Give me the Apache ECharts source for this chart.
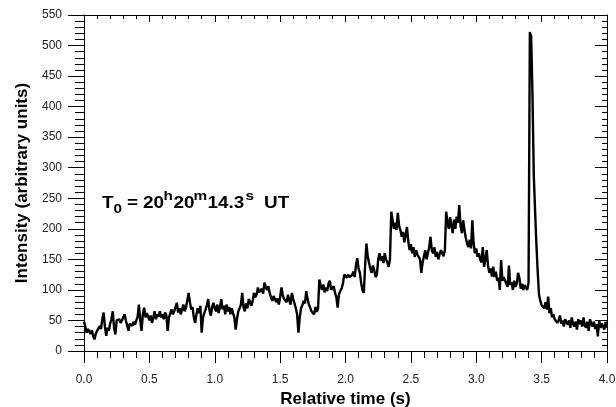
<!DOCTYPE html>
<html>
<head>
<meta charset="utf-8">
<script src="https://cdn.jsdelivr.net/npm/echarts@6/dist/echarts.min.js"></script>
<style>
  html, body { margin: 0; padding: 0; background: #fff; }
  #chart { width: 616px; height: 407px; }
</style>
</head>
<body>
<div id="chart"></div>
<script>
// sampling step of the record (s)
const step = 0.01

// intensity, one array per second, 100 samples each (last one has the 4.00 s point)
const sec0 = [
  48, 40, 30, 36, 33, 28, 34, 25, 19, 28,
  33, 30, 41, 36, 52, 63, 40, 25, 38, 33,
  45, 52, 65, 38, 27, 50, 48, 52, 46, 50,
  47, 60, 50, 42, 33, 45, 46, 41, 48, 43,
  50, 56, 76, 50, 33, 60, 71, 55, 62, 57,
  50, 58, 46, 55, 65, 52, 60, 56, 65, 55,
  60, 52, 63, 58, 33, 55, 62, 68, 60, 65,
  72, 79, 63, 70, 60, 68, 76, 65, 71, 73,
  95, 80, 68, 72, 55, 46, 60, 70, 62, 74,
  30, 55, 62, 68, 75, 85, 66, 58, 72, 79
]
const sec1 = [
  70, 65, 76, 62, 72, 85, 68, 74, 60, 76,
  65, 72, 60, 70, 62, 55, 35, 52, 65, 70,
  76, 95, 72, 65, 78, 70, 85, 80, 74, 82,
  95, 88, 92, 104, 96, 98, 102, 94, 112, 105,
  100, 106, 95, 88, 82, 90, 93, 80, 86, 76,
  88, 104, 92, 85, 87, 80, 92, 83, 76, 95,
  85, 78, 70, 60, 30, 55, 70, 75, 82, 78,
  98, 85, 76, 71, 65, 68, 60, 72, 64, 70,
  117, 108, 100, 109, 96, 104, 98, 110, 115, 100,
  98, 106, 95, 88, 71, 93, 98, 102, 110, 125
]
const sec2 = [
  124, 120, 125, 121, 118, 124, 130, 121, 140, 152,
  135, 128, 111, 100, 95, 140, 176, 155, 144, 135,
  128, 140, 132, 121, 125, 150, 160, 148, 155, 144,
  160, 150, 145, 138, 150, 228, 214, 200, 210, 198,
  226, 205, 198, 187, 195, 178, 190, 203, 180, 165,
  175, 160, 170, 154, 165, 158, 160, 150, 128, 145,
  155, 165, 150, 160, 170, 187, 165, 160, 170, 154,
  162, 150, 158, 165, 160, 155, 165, 228, 210, 200,
  219, 205, 193, 215, 200, 220, 210, 239, 205, 193,
  214, 198, 185, 176, 170, 182, 168, 214, 176, 160
]
const sec3 = [
  168, 154, 160, 150, 145, 170, 138, 150, 165, 140,
  128, 135, 122, 138, 121, 130, 115, 120, 100, 149,
  115, 121, 118, 110, 105, 140, 108, 112, 100, 115,
  105, 110, 128, 120, 102, 110, 100, 108, 104, 100,
  112, 522, 515, 420, 288, 230, 175, 130, 92, 82,
  75, 78, 70, 80, 68, 89, 62, 70, 55, 60,
  52, 55, 46, 50, 58, 45, 50, 40, 52, 47,
  43, 50, 38, 55, 45, 40, 48, 35, 52, 44,
  50, 40, 55, 42, 38, 48, 33, 52, 45, 40,
  48, 36, 44, 24, 50, 38, 45, 40, 35, 48,
  38
]

const xTicks = ['0.0', '0.5', '1.0', '1.5', '2.0', '2.5', '3.0', '3.5', '4.0']
const yTicks = [0, 50, 100, 150, 200, 250, 300, 350, 400, 450, 500, 550]

// pieces of the T0 label: [text, kind] — kind b = normal, sub, sup
const t0Parts = [['T', 'b'], ['0', 'sub'], ['=', 'b'], ['20', 'b'], ['h', 'sup'], ['20', 'b'],
  ['m', 'sup'], ['14.3', 'b'], ['s', 'sup'], ['UT', 'b']]
const t0Left = [102, 113.5, 127, 143, 163.5, 173.5, 193.5, 207.5, 245.5, 264]

const intensity = [].concat(sec0, sec1, sec2, sec3)
const data = intensity.map((v, i) => [+(i * step).toFixed(2), v])

const font = '"Liberation Sans", Arial, sans-serif'
const ink = '#000'

const partStyle = {
  b: { size: 16, top: 195.5 },
  sub: { size: 13, top: 203 },
  sup: { size: 13, top: 189.5 }
}
const t0Graphics = t0Parts.map(([txt, kind], i) => ({
  type: 'text',
  x: t0Left[i],
  y: partStyle[kind].top,
  scaleX: 1.18,
  style: {
    text: txt,
    font: 'bold ' + partStyle[kind].size + 'px ' + font,
    fill: ink,
    verticalAlign: 'top'
  }
}))

const chart = echarts.init(document.getElementById('chart'), null, { renderer: 'canvas' })

chart.setOption({
  animation: false,
  backgroundColor: '#fff',
  textStyle: { fontFamily: font },
  grid: { left: 84, right: 9, top: 15, bottom: 56, containLabel: false, outerBoundsMode: 'none' },
  xAxis: [
    {
      type: 'value', min: 0, max: 4, interval: 0.5,
      name: 'Relative time (s)', nameLocation: 'middle', nameGap: 30,
      nameTextStyle: { fontSize: 17, fontWeight: 'bold', color: ink, fontFamily: font },
      axisLine: { lineStyle: { color: ink, width: 1 } },
      axisTick: { show: true, length: 12, inside: false, lineStyle: { color: ink } },
      minorTick: { show: true, splitNumber: 5, length: 7, lineStyle: { color: ink } },
      axisLabel: {
        margin: 23, fontSize: 12, color: '#222', fontFamily: font,
        formatter: v => xTicks[Math.round(v / 0.5)]
      },
      splitLine: { show: false }
    },
    {
      type: 'value', min: 0, max: 4, interval: 0.5, position: 'top',
      axisLine: { onZero: false, lineStyle: { color: ink, width: 1 } },
      axisTick: { show: true, inside: true, length: 7, lineStyle: { color: ink } },
      minorTick: { show: true, splitNumber: 5, length: 4, lineStyle: { color: ink } },
      axisLabel: { show: false },
      splitLine: { show: false }
    }
  ],
  yAxis: [
    {
      type: 'value', min: 0, max: 550, interval: 50,
      name: 'Intensity (arbitrary units)', nameLocation: 'middle', nameGap: 46,
      nameTextStyle: { fontSize: 17, fontWeight: 'bold', color: ink, fontFamily: font },
      axisLine: { show: true, lineStyle: { color: ink, width: 1 } },
      axisTick: { show: true, length: 16, inside: false, lineStyle: { color: ink } },
      minorTick: { show: true, splitNumber: 5, length: 9, lineStyle: { color: ink } },
      axisLabel: {
        margin: 22, fontSize: 12, color: '#222', fontFamily: font,
        formatter: v => String(yTicks[Math.round(v / 50)])
      },
      splitLine: { show: false }
    },
    {
      type: 'value', min: 0, max: 550, interval: 50, position: 'right',
      axisLine: { show: true, onZero: false, lineStyle: { color: ink, width: 1 } },
      axisTick: { show: true, inside: true, length: 12, lineStyle: { color: ink } },
      minorTick: { show: true, splitNumber: 5, length: 5, lineStyle: { color: ink } },
      axisLabel: { show: false },
      splitLine: { show: false }
    }
  ],
  series: [
    {
      type: 'line',
      data: data,
      showSymbol: false,
      lineStyle: { color: ink, width: 2.4 },
      silent: true
    }
  ],
  graphic: t0Graphics
})
</script>
</body>
</html>
